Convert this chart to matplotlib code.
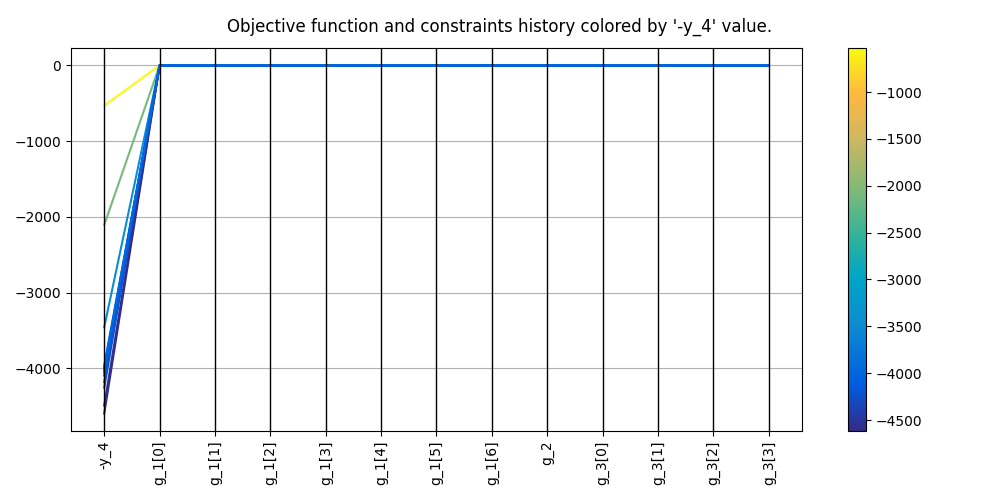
import numpy as np
import matplotlib
matplotlib.use("Agg")
import matplotlib.pyplot as plt
from matplotlib.colors import LinearSegmentedColormap, Normalize

# variables shown on the parallel axes
names = ["-y_4", "g_1[0]", "g_1[1]", "g_1[2]", "g_1[3]", "g_1[4]", "g_1[5]",
         "g_1[6]", "g_2", "g_3[0]", "g_3[1]", "g_3[2]", "g_3[3]"]

# objective value per iteration
obj = [-4000, -530, -2106, -3457, -3960, -4093, -4252, -4490, -4596,
       -4180, -4050, -4020, -3990]
# constraint values are all at 0 for every iteration
n_cons = len(names) - 1

parula = LinearSegmentedColormap.from_list("parula", [
    (0.0, (0.208, 0.166, 0.529)),
    (0.12, (0.0, 0.36, 0.88)),
    (0.28, (0.05, 0.55, 0.82)),
    (0.4, (0.0, 0.65, 0.78)),
    (0.51, (0.2, 0.7, 0.6)),
    (0.64, (0.52, 0.73, 0.46)),
    (0.76, (0.8, 0.72, 0.38)),
    (0.88, (1.0, 0.72, 0.25)),
    (1.0, (0.976, 0.983, 0.055)),
])

vmin, vmax = -4617, -530
norm = Normalize(vmin=vmin, vmax=vmax)

fig = plt.figure(figsize=(10, 5), dpi=100)
ax = fig.add_axes([0.071, 0.138, 0.731, 0.766])
cax = fig.add_axes([0.848, 0.138, 0.018, 0.766])

x = np.arange(len(names))
for v in obj:
    ys = [v] + [0] * n_cons
    ax.plot(x, ys, color=parula(norm(v)), linewidth=1.5)

for xi in x:
    ax.axvline(xi, color="black", linewidth=1)
ax.set_xticks(x)
ax.set_xticklabels(names, rotation=90)
ax.yaxis.grid(True, color="#b0b0b0")
ax.set_axisbelow(True)
ax.set_yticks([0, -1000, -2000, -3000, -4000])

sm = plt.cm.ScalarMappable(norm=norm, cmap=parula)
cb = fig.colorbar(sm, cax=cax)
cb.set_ticks([-1000, -1500, -2000, -2500, -3000, -3500, -4000, -4500])

fig.suptitle("Objective function and constraints history colored by '-y_4' value.",
             y=0.965, fontsize=12)
fig.savefig("out.png")
